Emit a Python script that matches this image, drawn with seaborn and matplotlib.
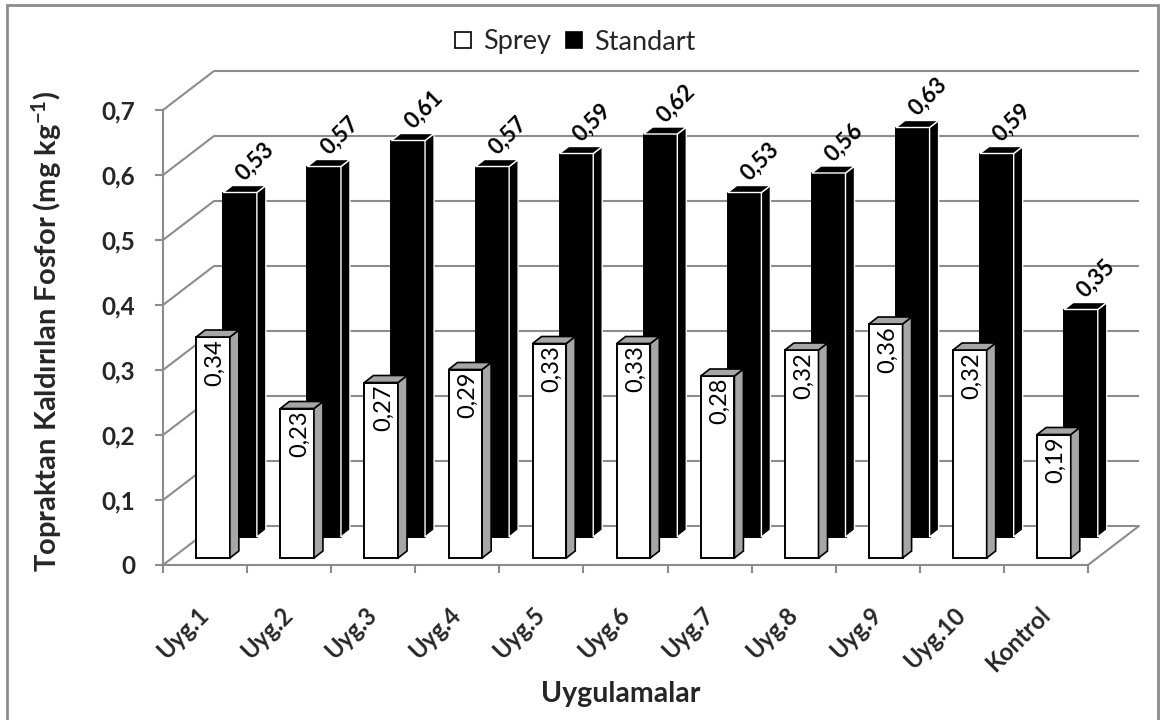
import numpy as np
import pandas as pd
import seaborn as sns
import matplotlib
matplotlib.use("Agg")
import matplotlib.pyplot as plt
from matplotlib.patches import Polygon, Rectangle
from matplotlib.lines import Line2D
from matplotlib.transforms import ScaledTranslation
from matplotlib.ticker import FixedLocator, FuncFormatter

# ---- data -------------------------------------------------------------
categories = ["Uyg.1", "Uyg.2", "Uyg.3", "Uyg.4", "Uyg.5", "Uyg.6",
              "Uyg.7", "Uyg.8", "Uyg.9", "Uyg.10", "Kontrol"]
sprey = [0.34, 0.23, 0.27, 0.29, 0.33, 0.33, 0.28, 0.32, 0.36, 0.32, 0.19]
standart = [0.53, 0.57, 0.61, 0.57, 0.59, 0.62, 0.53, 0.56, 0.63, 0.59, 0.35]
series = ["Sprey", "Standart"]
y_ticks = [0.0, 0.1, 0.2, 0.3, 0.4, 0.5, 0.6, 0.7]

df = pd.DataFrame({
    "Uygulama": categories * 2,
    "Seri": [series[0]] * len(sprey) + [series[1]] * len(standart),
    "Deger": sprey + standart,
})

# ---- style ------------------------------------------------------------
sns.set_theme(style="white")
plt.rcParams["font.family"] = ["Lato", "DejaVu Sans"]
plt.rcParams["mathtext.default"] = "regular"

GRID = "#8c8c8c"
SIDE_GRAY = "#a6a6a6"
W, H = 1160, 720
DPI = 100

fig = plt.figure(figsize=(W / DPI, H / DPI), dpi=DPI)
fig.patch.set_facecolor("white")

# front plane of the chart in pixel units
left_px, right_px = 163, 1088
bottom_px, top_px = 565, 110
ax = fig.add_axes([left_px / W, 1 - bottom_px / H,
                   (right_px - left_px) / W, (bottom_px - top_px) / H])
ax.set_facecolor("none")

sns.barplot(data=df, x="Uygulama", y="Deger", hue="Seri",
            order=categories, hue_order=["Standart", "Sprey"],
            palette={"Sprey": "white", "Standart": "black"},
            dodge=False, width=0.4, saturation=1, errorbar=None,
            edgecolor="black", linewidth=1.4, legend=False, ax=ax)

ax.set_xlim(-0.5, len(categories) - 0.5)
ax.set_ylim(0, 0.7)

# pixels per data unit
ppx = (right_px - left_px) / len(categories)
ppy = (bottom_px - top_px) / 0.7


def shift(dx, dy):
    """Translate by dx, dy screen pixels (y upward)."""
    return ax.transData + ScaledTranslation(dx / DPI, dy / DPI, fig.dpi_scale_trans)


# depth offsets (pixels) for the pseudo-3D look
BACK = (51, 39)
DEPTH = (9, 7)
SERIES_SHIFT = {"Sprey": (8, 7), "Standart": (35, 28)}

# ---- back wall, side wall and floor ------------------------------------
bdx, bdy = BACK[0] / ppx, BACK[1] / ppy
x_lo, x_hi = -0.5, len(categories) - 0.5
for v in y_ticks:
    ax.plot([x_lo + bdx, x_hi + bdx], [v + bdy, v + bdy], color=GRID, lw=1.5,
            clip_on=False, zorder=0.5, solid_capstyle="butt")
    ax.plot([x_lo, x_lo + bdx], [v, v + bdy], color=GRID, lw=1.5,
            clip_on=False, zorder=0.5)
ax.plot([x_hi, x_hi + bdx], [0, bdy], color=GRID, lw=1.5, clip_on=False, zorder=0.5)

# ---- bars with side and top faces --------------------------------------
ddx, ddy = DEPTH[0] / ppx, DEPTH[1] / ppy
styles = {
    "Standart": dict(z=2, face="black", edge="white", elw=1.0),
    "Sprey": dict(z=3, face=SIDE_GRAY, edge="black", elw=1.2),
}
for name, container in zip(["Standart", "Sprey"], ax.containers):
    st = styles[name]
    sx, sy = SERIES_SHIFT[name]
    tr = shift(sx, sy)
    for bar in container:
        bar.set_transform(tr)
        bar.set_zorder(st["z"])
        bar.set_clip_on(False)
        bx, by = bar.get_x(), bar.get_y()
        bw, bh = bar.get_width(), bar.get_height()
        side = [(bx + bw, by), (bx + bw + ddx, by + ddy),
                (bx + bw + ddx, by + bh + ddy), (bx + bw, by + bh)]
        top = [(bx, by + bh), (bx + bw, by + bh),
               (bx + bw + ddx, by + bh + ddy), (bx + ddx, by + bh + ddy)]
        for verts in (side, top):
            ax.add_patch(Polygon(verts, closed=True, facecolor=st["face"],
                                 edgecolor=st["edge"], lw=st["elw"],
                                 transform=tr, zorder=st["z"], clip_on=False,
                                 joinstyle="miter"))
        # value labels
        cx = bx + bw / 2
        label = f"{bh:.2f}".replace(".", ",")
        if name == "Standart":
            ax.text(cx, by + bh, label,
                    transform=shift(sx, sy + 15), rotation=45,
                    rotation_mode="anchor", ha="left", va="center",
                    fontsize=16, fontweight="bold", color="black", zorder=6)
        else:
            ax.text(cx, by + bh, label,
                    transform=shift(sx + 2, sy - 2), rotation=90,
                    rotation_mode="anchor", ha="right", va="center",
                    fontsize=17, color="black", zorder=6)

# ---- axes, ticks --------------------------------------------------------
for s in ["top", "right"]:
    ax.spines[s].set_visible(False)
for s in ["left", "bottom"]:
    ax.spines[s].set_color(GRID)
    ax.spines[s].set_linewidth(1.5)
    ax.spines[s].set_zorder(1)

ax.yaxis.set_major_locator(FixedLocator(y_ticks))
ax.yaxis.set_major_formatter(FuncFormatter(
    lambda v, p: "0" if abs(v) < 1e-9 else f"{v:.1f}".replace(".", ",")))
ax.tick_params(axis="y", which="major", left=True, length=6, width=1.5,
               color=GRID, pad=14, labelsize=17.5)
for lab in ax.get_yticklabels():
    lab.set_fontweight("bold")

ax.set_xticks(range(len(categories)))
ax.set_xticks(np.arange(-0.5, len(categories), 1.0), minor=True)
ax.tick_params(axis="x", which="major", bottom=True, length=0, pad=33, labelsize=17)
ax.tick_params(axis="x", which="minor", bottom=True, length=6, width=1.5, color=GRID)
ax.set_xticklabels(categories, rotation=45, ha="right", va="center",
                   rotation_mode="anchor", fontweight="bold")
ax.set_xlabel("")
ax.set_ylabel("")

# ---- titles ---------------------------------------------------------------
fig.text(47 / W, 1 - 331 / H, "Topraktan Kaldırılan Fosfor (mg kg$^{-1}$)",
         rotation=90, ha="center", va="center", fontsize=21, fontweight="bold")
fig.text(621 / W, 1 - 702 / H, "Uygulamalar", ha="center", va="baseline",
         fontsize=20.5, fontweight="bold")

# ---- legend ---------------------------------------------------------------
handles = [
    Line2D([], [], marker="s", linestyle="", markersize=11.5,
           markerfacecolor="white", markeredgecolor="black", markeredgewidth=1.2),
    Line2D([], [], marker="s", linestyle="", markersize=11.5,
           markerfacecolor="black", markeredgecolor="black", markeredgewidth=1.2),
]
fig.legend(handles, series, loc="center", bbox_to_anchor=(574 / W, 1 - 42 / H),
           ncol=2, frameon=False, fontsize=19.5, handlelength=0.8,
           handletextpad=0.34, columnspacing=0.45, borderpad=0.1)

# ---- outer frame ----------------------------------------------------------
fig.patches.append(Rectangle((7 / W, -0.02), (1158 - 7) / W, 1.02 - 5 / H,
                             transform=fig.transFigure, fill=False,
                             edgecolor=GRID, lw=2, zorder=0))

fig.savefig("out.png", dpi=DPI)
